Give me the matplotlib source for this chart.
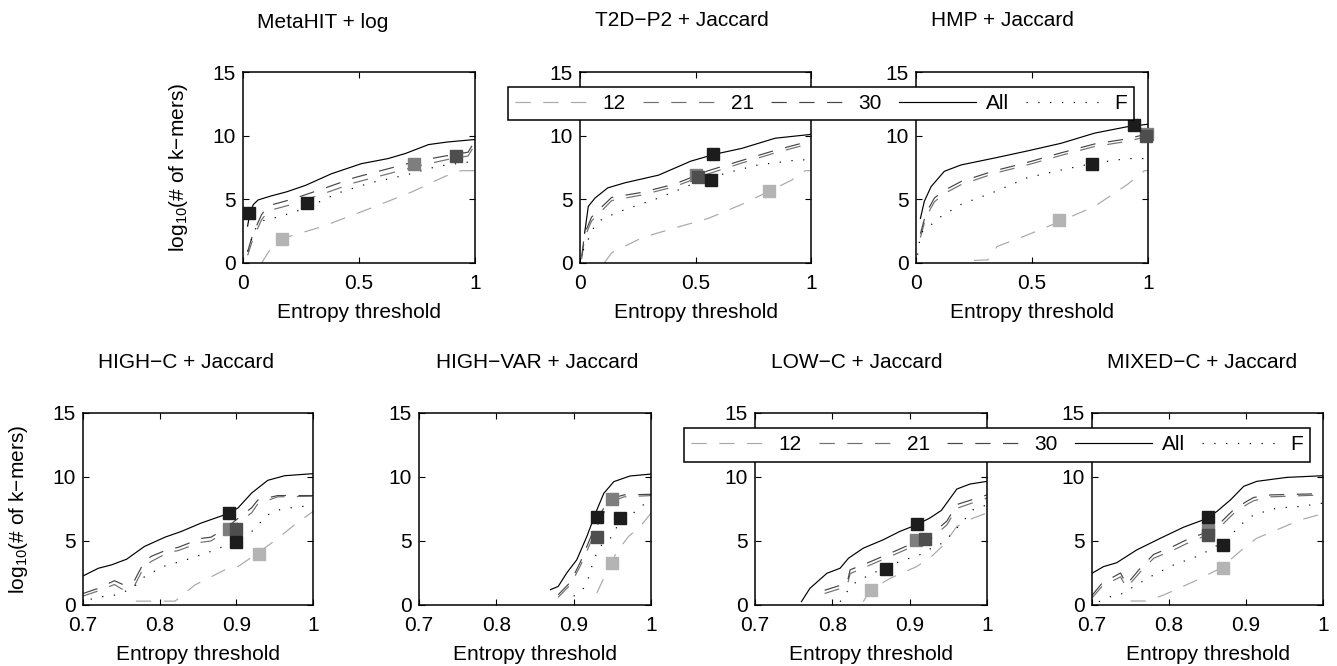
import matplotlib
matplotlib.use("Agg")
import matplotlib.pyplot as plt
from matplotlib.lines import Line2D
from matplotlib.ticker import FormatStrFormatter

plt.rcParams["font.family"] = ["Liberation Sans", "DejaVu Sans"]
plt.rcParams["mathtext.fontset"] = "custom"
plt.rcParams["mathtext.rm"] = "Liberation Sans"
plt.rcParams["mathtext.it"] = "Liberation Sans:italic"
plt.rcParams["lines.scale_dashes"] = False
FS = 15

# ---------------------------------------------------------------- data
# each curve: (entropy threshold, log10 #k-mers)
series_names = ["12", "21", "30", "All", "F"]

# MetaHIT + log
mh_12 = [(0.08, 0.0), (0.115, 1.0), (0.165, 1.9), (0.34, 2.85), (0.55, 4.3), (0.73, 5.6), (0.87, 6.8), (0.94, 7.25), (1.0, 7.25)]
mh_21 = [(0.02, 0.6), (0.043, 1.9), (0.08, 3.4), (0.11, 4.1), (0.21, 4.6), (0.34, 5.4), (0.48, 6.3), (0.625, 7.0), (0.75, 7.6), (0.90, 8.2), (0.97, 8.4), (1.0, 9.3)]
mh_30 = [(0.02, 0.9), (0.043, 2.3), (0.08, 3.8), (0.11, 4.5), (0.21, 5.0), (0.34, 5.8), (0.48, 6.7), (0.625, 7.4), (0.75, 8.0), (0.90, 8.5), (0.97, 8.7), (1.0, 9.6)]
mh_all = [(0.02, 2.9), (0.03, 4.0), (0.045, 4.6), (0.065, 4.95), (0.12, 5.26), (0.19, 5.6), (0.27, 6.1), (0.38, 7.0), (0.51, 7.8), (0.625, 8.2), (0.70, 8.6), (0.80, 9.3), (0.88, 9.5), (1.0, 9.7)]
mh_f = [(0.02, 0.9), (0.05, 2.6), (0.093, 3.4), (0.15, 3.6), (0.27, 4.3), (0.41, 5.5), (0.55, 6.3), (0.70, 6.9), (0.84, 7.6), (1.0, 8.0)]
mh_marks = [(0.168, 1.86), (0.737, 7.77), (0.917, 8.4), (0.026, 3.9), (0.277, 4.74)]

# T2D-P2 + Jaccard
t2d_12 = [(0.105, 0.0), (0.137, 0.8), (0.27, 2.0), (0.41, 2.75), (0.555, 3.5), (0.70, 4.6), (0.815, 5.6), (0.915, 6.5), (0.975, 7.25), (1.0, 7.25)]
t2d_21 = [(0.007, 0.3), (0.02, 2.0), (0.05, 3.3), (0.094, 4.1), (0.137, 4.9), (0.27, 5.35), (0.41, 6.0), (0.555, 7.0), (0.70, 7.85), (0.845, 8.65), (1.0, 9.4)]
t2d_30 = [(0.007, 0.5), (0.02, 2.3), (0.05, 3.6), (0.094, 4.4), (0.137, 5.15), (0.27, 5.55), (0.41, 6.2), (0.555, 7.25), (0.70, 8.05), (0.845, 8.85), (1.0, 9.6)]
t2d_all = [(0.02, 2.35), (0.036, 4.45), (0.065, 5.1), (0.12, 5.9), (0.195, 6.3), (0.34, 6.9), (0.48, 8.0), (0.585, 8.55), (0.70, 9.0), (0.845, 9.8), (1.0, 10.1)]
t2d_f = [(0.014, 1.0), (0.065, 3.0), (0.10, 3.5), (0.195, 4.2), (0.34, 5.1), (0.48, 6.15), (0.63, 7.05), (0.77, 7.7), (0.945, 8.1), (1.0, 8.1)]
t2d_marks = [(0.818, 5.63), (0.50, 6.9), (0.51, 6.75), (0.577, 8.56), (0.567, 6.5)]

# HMP + Jaccard
hmp_12 = [(0.25, 0.2), (0.31, 0.25), (0.35, 1.3), (0.48, 2.2), (0.625, 3.3), (0.77, 4.45), (0.91, 6.15), (0.985, 7.25), (1.0, 7.25)]
hmp_21 = [(0.019, 2.0), (0.043, 3.6), (0.079, 4.8), (0.122, 5.45), (0.194, 6.15), (0.34, 7.05), (0.48, 7.7), (0.625, 8.45), (0.77, 9.15), (0.91, 9.55), (1.0, 9.95)]
hmp_30 = [(0.019, 2.3), (0.043, 3.9), (0.079, 5.1), (0.122, 5.7), (0.194, 6.4), (0.34, 7.25), (0.48, 7.9), (0.625, 8.65), (0.77, 9.35), (0.91, 9.75), (1.0, 10.15)]
hmp_all = [(0.019, 3.5), (0.036, 4.85), (0.065, 6.0), (0.122, 7.2), (0.194, 7.7), (0.34, 8.25), (0.48, 8.8), (0.625, 9.4), (0.77, 10.2), (0.91, 10.7), (1.0, 10.9)]
hmp_f = [(0.007, 0.65), (0.02, 2.35), (0.065, 3.0), (0.108, 3.65), (0.194, 4.6), (0.34, 5.6), (0.48, 6.7), (0.625, 7.3), (0.77, 7.85), (0.91, 8.2), (1.0, 8.2)]
hmp_marks = [(0.618, 3.35), (0.995, 10.1), (0.993, 10.0), (0.94, 10.8), (0.759, 7.77)]

# HIGH-C + Jaccard
hc_12 = [(0.769, 0.3), (0.82, 0.3), (0.846, 1.57), (0.885, 2.74), (0.902, 3.0), (0.928, 4.05), (0.954, 5.2), (0.976, 6.27), (1.0, 7.3)]
hc_21 = [(0.70, 0.7), (0.72, 1.1), (0.741, 1.6), (0.752, 1.2), (0.767, 1.5), (0.78, 3.0), (0.789, 3.4), (0.811, 4.1), (0.824, 4.25), (0.854, 4.9), (0.867, 5.0), (0.885, 5.7), (0.92, 7.2), (0.928, 7.9), (0.954, 8.45), (1.0, 8.5)]
hc_30 = [(0.70, 0.9), (0.72, 1.3), (0.741, 1.9), (0.752, 1.6), (0.767, 1.9), (0.78, 3.4), (0.789, 3.8), (0.811, 4.35), (0.824, 4.5), (0.854, 5.2), (0.867, 5.3), (0.885, 5.95), (0.92, 7.6), (0.928, 8.2), (0.954, 8.55), (1.0, 8.55)]
hc_all = [(0.70, 2.27), (0.72, 2.87), (0.737, 3.13), (0.757, 3.58), (0.78, 4.57), (0.807, 5.3), (0.828, 5.74), (0.854, 6.4), (0.885, 7.05), (0.902, 7.57), (0.92, 8.75), (0.941, 9.74), (0.963, 10.1), (1.0, 10.26)]
hc_f = [(0.71, 0.45), (0.724, 0.65), (0.737, 0.7), (0.752, 0.97), (0.767, 1.44), (0.78, 2.2), (0.804, 3.0), (0.833, 3.5), (0.863, 4.1), (0.88, 4.5), (0.902, 5.04), (0.92, 5.74), (0.941, 7.05), (0.959, 7.5), (1.0, 7.8)]
hc_marks = [(0.93, 3.97), (0.89, 5.93), (0.90, 5.95), (0.89, 7.18), (0.90, 4.9)]

# HIGH-VAR + Jaccard
hv_12 = [(0.93, 0.94), (0.939, 2.1), (0.956, 4.18), (0.971, 5.35), (0.986, 6.13), (1.0, 7.17)]
hv_21 = [(0.88, 0.6), (0.896, 1.6), (0.909, 3.1), (0.922, 4.9), (0.934, 6.7), (0.947, 8.0), (0.965, 8.45), (1.0, 8.55)]
hv_30 = [(0.88, 0.8), (0.896, 1.8), (0.909, 3.4), (0.922, 5.3), (0.934, 7.1), (0.947, 8.3), (0.965, 8.6), (1.0, 8.65)]
hv_all = [(0.87, 1.2), (0.88, 1.45), (0.891, 2.5), (0.904, 3.53), (0.917, 5.35), (0.93, 7.43), (0.939, 8.73), (0.952, 9.64), (0.973, 10.08), (1.0, 10.23)]
hv_f = [(0.90, 0.68), (0.913, 1.32), (0.919, 2.1), (0.926, 3.53), (0.934, 4.57), (0.95, 5.35), (0.956, 6.13), (0.969, 6.78), (0.99, 7.82), (1.0, 7.95)]
hv_marks = [(0.95, 3.27), (0.95, 8.26), (0.93, 5.35), (0.93, 6.9), (0.96, 6.83)]

# LOW-C + Jaccard
lc_12 = [(0.84, 0.26), (0.849, 1.17), (0.875, 2.09), (0.909, 3.0), (0.926, 3.66), (0.944, 4.7), (0.961, 6.14), (0.982, 6.79), (1.0, 7.18)]
lc_21 = [(0.79, 0.9), (0.819, 1.45), (0.823, 2.45), (0.844, 3.0), (0.875, 3.8), (0.909, 4.7), (0.928, 5.2), (0.948, 6.25), (0.961, 7.55), (0.987, 8.1), (1.0, 8.35)]
lc_30 = [(0.79, 1.15), (0.819, 1.7), (0.823, 2.75), (0.844, 3.25), (0.875, 4.05), (0.909, 4.95), (0.928, 5.5), (0.948, 6.55), (0.961, 7.85), (0.987, 8.35), (1.0, 8.6)]
lc_all = [(0.76, 0.26), (0.771, 1.3), (0.793, 2.48), (0.81, 2.87), (0.821, 3.66), (0.84, 4.44), (0.866, 5.1), (0.887, 5.74), (0.909, 6.27), (0.926, 6.79), (0.941, 7.39), (0.961, 9.06), (0.978, 9.45), (1.0, 9.66)]
lc_f = [(0.81, 0.26), (0.819, 1.04), (0.831, 1.83), (0.844, 2.22), (0.866, 2.87), (0.887, 3.39), (0.913, 3.92), (0.928, 4.44), (0.944, 4.88), (0.963, 6.14), (0.982, 7.44), (1.0, 7.83)]
lc_marks = [(0.85, 1.17), (0.908, 5.09), (0.92, 5.17), (0.91, 6.32), (0.87, 2.79)]

# MIXED-C + Jaccard
mc_12 = [(0.75, 0.31), (0.771, 0.31), (0.793, 0.78), (0.832, 1.83), (0.867, 2.87), (0.897, 4.44), (0.914, 5.22), (0.94, 5.87), (0.971, 6.66), (1.0, 7.13)]
mc_21 = [(0.70, 0.55), (0.713, 1.45), (0.737, 2.2), (0.745, 1.35), (0.763, 2.6), (0.78, 3.65), (0.806, 4.3), (0.823, 4.8), (0.845, 5.35), (0.862, 5.85), (0.884, 7.15), (0.901, 7.85), (0.91, 8.15), (0.932, 8.45), (1.0, 8.6)]
mc_30 = [(0.70, 0.75), (0.713, 1.7), (0.737, 2.5), (0.745, 1.6), (0.763, 2.9), (0.78, 3.95), (0.806, 4.6), (0.823, 5.1), (0.845, 5.6), (0.862, 6.15), (0.884, 7.45), (0.901, 8.1), (0.91, 8.4), (0.932, 8.6), (1.0, 8.7)]
mc_all = [(0.70, 2.48), (0.715, 3.0), (0.732, 3.3), (0.758, 4.3), (0.789, 5.22), (0.819, 6.08), (0.845, 6.66), (0.862, 7.3), (0.88, 8.22), (0.897, 9.27), (0.914, 9.66), (0.953, 9.97), (1.0, 10.1)]
mc_f = [(0.709, 0.26), (0.726, 0.7), (0.741, 0.91), (0.754, 1.44), (0.78, 2.35), (0.806, 3.13), (0.836, 3.79), (0.849, 4.18), (0.875, 5.09), (0.893, 6.27), (0.91, 7.05), (0.94, 7.57), (0.971, 7.7), (1.0, 7.96)]
mc_marks = [(0.87, 2.87), (0.85, 5.87), (0.85, 5.48), (0.85, 6.87), (0.87, 4.65)]

titles = ["MetaHIT + log", "T2D\u2212P2 + Jaccard", "HMP + Jaccard",
          "HIGH\u2212C + Jaccard", "HIGH\u2212VAR + Jaccard",
          "LOW\u2212C + Jaccard", "MIXED\u2212C + Jaccard"]

# ---------------------------------------------------------------- styling
line_col = ["#a8a8a8", "#707070", "#454545", "black", "black"]
mark_col = ["#b4b4b4", "#7e7e7e", "#4e4e4e", "#1c1c1c", "#1c1c1c"]
dash = [(11, 9), (11, 9), (11, 9), None, (0.9, 7.6)]
LW = 0.85

W, H = 1337, 666
# axes boxes in pixels: left, top, right, bottom
boxes = [(243, 72, 475, 263), (580, 72, 811, 263), (916, 72, 1148, 263),
         (83, 413, 313, 605), (419, 413, 651, 605), (755, 413, 987, 605),
         (1092, 413, 1323, 605)]
title_xy = [(323, 22), (682, 21), (1002, 21), (186, 363), (537, 363), (857, 363), (1202, 363)]

panels = [
    (mh_12, mh_21, mh_30, mh_all, mh_f, mh_marks),
    (t2d_12, t2d_21, t2d_30, t2d_all, t2d_f, t2d_marks),
    (hmp_12, hmp_21, hmp_30, hmp_all, hmp_f, hmp_marks),
    (hc_12, hc_21, hc_30, hc_all, hc_f, hc_marks),
    (hv_12, hv_21, hv_30, hv_all, hv_f, hv_marks),
    (lc_12, lc_21, lc_30, lc_all, lc_f, lc_marks),
    (mc_12, mc_21, mc_30, mc_all, mc_f, mc_marks),
]

fig = plt.figure(figsize=(W / 100, H / 100), dpi=100)

for i, p in enumerate(panels):
    l, t, r, b = boxes[i]
    ax = fig.add_axes([l / W, 1 - b / H, (r - l) / W, (b - t) / H])
    for k in range(5):
        xs = [q[0] for q in p[k]]
        ys = [q[1] for q in p[k]]
        kw = dict(color=line_col[k], lw=LW)
        if dash[k] is not None:
            kw["dashes"] = dash[k]
        ax.plot(xs, ys, **kw)
    for k, (mx, my) in enumerate(p[5]):
        ax.plot(mx, my, "s", ms=8.6, mfc=mark_col[k], mec=mark_col[k],
                clip_on=False, zorder=5)
    ax.set_ylim(0, 15)
    ax.set_yticks([0, 5, 10, 15])
    if i < 3:
        ax.set_xlim(0, 1)
        ax.set_xticks([0, 0.5, 1])
    else:
        ax.set_xlim(0.7, 1)
        ax.set_xticks([0.7, 0.8, 0.9, 1])
    ax.xaxis.set_major_formatter(FormatStrFormatter("%g"))
    ax.tick_params(direction="in", top=True, right=True, length=4, width=0.8,
                   labelsize=FS)
    ax.tick_params(axis="x", pad=8)
    ax.tick_params(axis="y", pad=5)
    for s in ax.spines.values():
        s.set_linewidth(1.1)
    ax.set_xlabel("Entropy threshold", fontsize=FS)
    ax.xaxis.set_label_coords(0.5, -49 / (b - t))
    ax.xaxis.label.set_va("center")
    if i in (0, 3):
        ax.set_ylabel("log$_{10}$(# of k\u2212mers)", fontsize=FS)
        ax.yaxis.set_label_coords(-64 / (r - l), 0.5)
        ax.yaxis.label.set_va("center")
    tx, ty = title_xy[i]
    fig.text(tx / W, 1 - ty / H, titles[i], ha="center", va="center", fontsize=FS)

handles = []
for k in range(5):
    kw = dict(color=line_col[k], lw=LW)
    if dash[k] is not None:
        kw["dashes"] = dash[k]
    handles.append(Line2D([], [], **kw))

for (l, t, r, b) in [(508, 85, 1134, 122), (684, 427, 1310, 463)]:
    leg = fig.legend(handles, series_names, loc="center", ncol=5, mode="expand",
                     bbox_to_anchor=(l / W, 1 - b / H, (r - l) / W, (b - t) / H),
                     borderaxespad=0, fontsize=FS, handlelength=3.7,
                     handletextpad=0.5, columnspacing=0.7, fancybox=False,
                     framealpha=1, edgecolor="black", borderpad=0.35)
    leg.get_frame().set_linewidth(1.1)

fig.savefig("out.png", dpi=100)
